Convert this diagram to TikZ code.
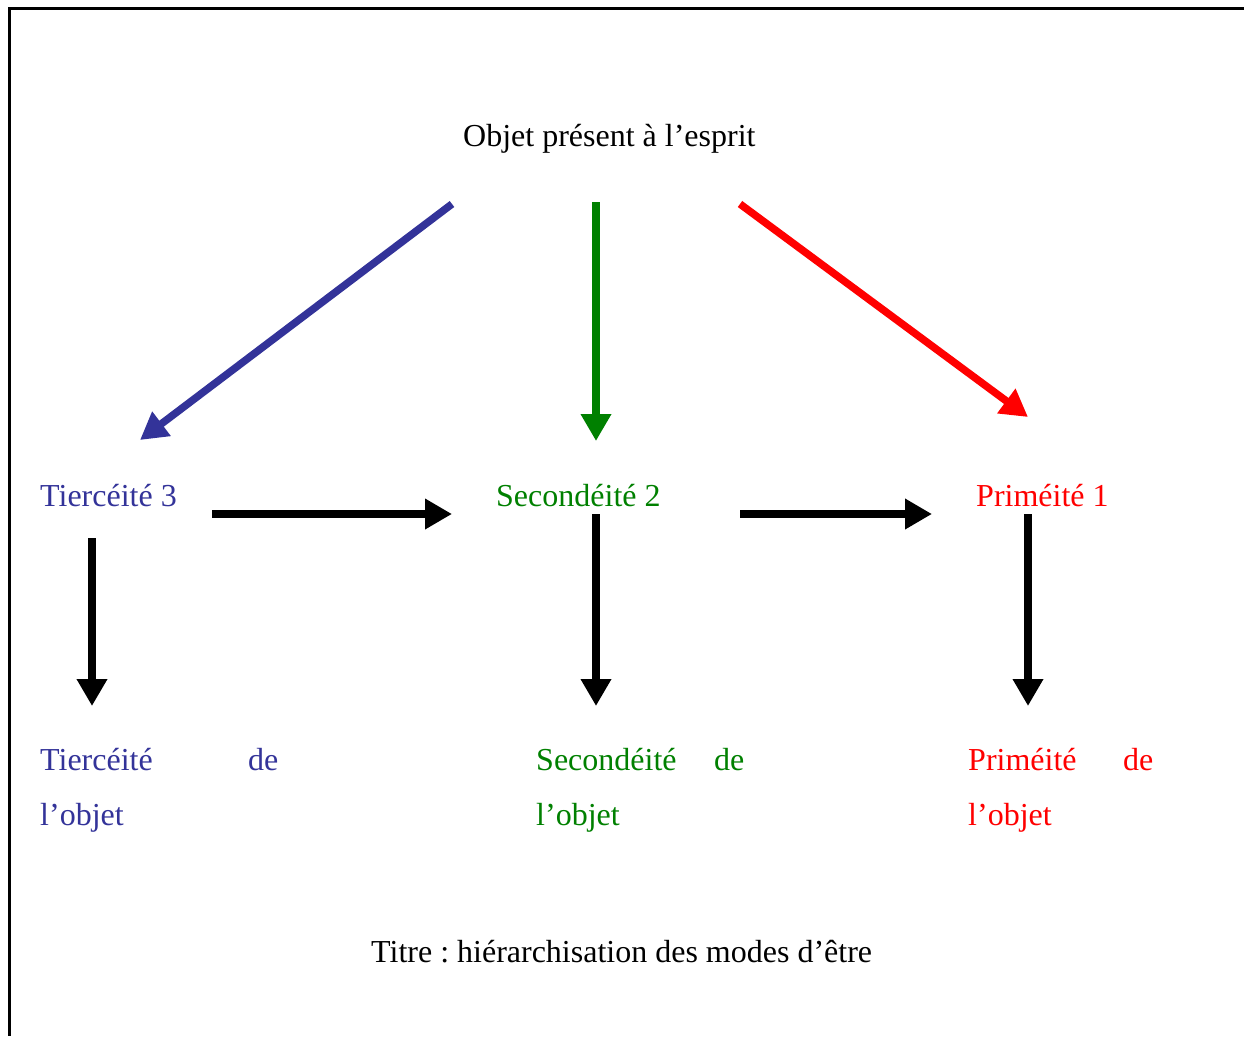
\documentclass[tikz,border=0pt]{standalone}
\usepackage{fontspec}
\setmainfont{Liberation Serif}
\usetikzlibrary{arrows.meta}
\definecolor{tblue}{HTML}{333399}
\definecolor{tgreen}{HTML}{008000}
\definecolor{tred}{HTML}{FF0000}
\frenchspacing
\begin{document}
\begin{tikzpicture}[x=1pt,y=-1pt,
  lbl/.style={anchor=base west,inner sep=0pt,font=\fontsize{32}{38}\selectfont},
  arr/.style={line width=7.5pt,-{Triangle[length=27pt,width=29pt]}}]
\useasboundingbox (0,0) rectangle (1244,1036);
% frame: top and left rules
\draw[line width=3pt] (1244,8) -- (9,8) -- (9,1036);

% labels
\node[lbl] (obj) at (463,146) {Objet présent à l’esprit};
\node[lbl,text=tblue] (t3) at (40,506) {Tiercéité 3};
\node[lbl,text=tgreen] (s2) at (496,506) {Secondéité 2};
\node[lbl,text=tred] (p1) at (976,506) {Priméité 1};
\node[lbl,text=tblue] (tobj1) at (40,770) {Tiercéité};
\node[lbl,text=tblue] (tde) at (248,770) {de};
\node[lbl,text=tblue] (tobj2) at (40,825) {l’objet};
\node[lbl,text=tgreen] (sobj1) at (536,770) {Secondéité};
\node[lbl,text=tgreen] (sde) at (714,770) {de};
\node[lbl,text=tgreen] (sobj2) at (536,825) {l’objet};
\node[lbl,text=tred] (pobj1) at (968,770) {Priméité};
\node[lbl,text=tred] (pde) at (1123,770) {de};
\node[lbl,text=tred] (pobj2) at (968,825) {l’objet};
\node[lbl] (title) at (371,962) {Titre : hiérarchisation des modes d’être};

% arrow ends
\coordinate (bS) at (452,204); \coordinate (bE) at (140,440);
\coordinate (gS) at (596,202); \coordinate (gE) at (596,441);
\coordinate (rS) at (740,204); \coordinate (rE) at (1028,417);
\coordinate (h1S) at (212,514); \coordinate (h1E) at (452,514);
\coordinate (h2S) at (740,514); \coordinate (h2E) at (932,514);
\coordinate (v1S) at (92,538); \coordinate (v1E) at (92,706);
\coordinate (v2S) at (596,514); \coordinate (v2E) at (596,706);
\coordinate (v3S) at (1028,514); \coordinate (v3E) at (1028,706);

\draw[arr,tblue] (bS) -- (bE);
\draw[arr,tgreen] (gS) -- (gE);
\draw[arr,tred] (rS) -- (rE);
\draw[arr,black] (h1S) -- (h1E);
\draw[arr,black] (h2S) -- (h2E);
\draw[arr,black] (v1S) -- (v1E);
\draw[arr,black] (v2S) -- (v2E);
\draw[arr,black] (v3S) -- (v3E);
\end{tikzpicture}
\end{document}
